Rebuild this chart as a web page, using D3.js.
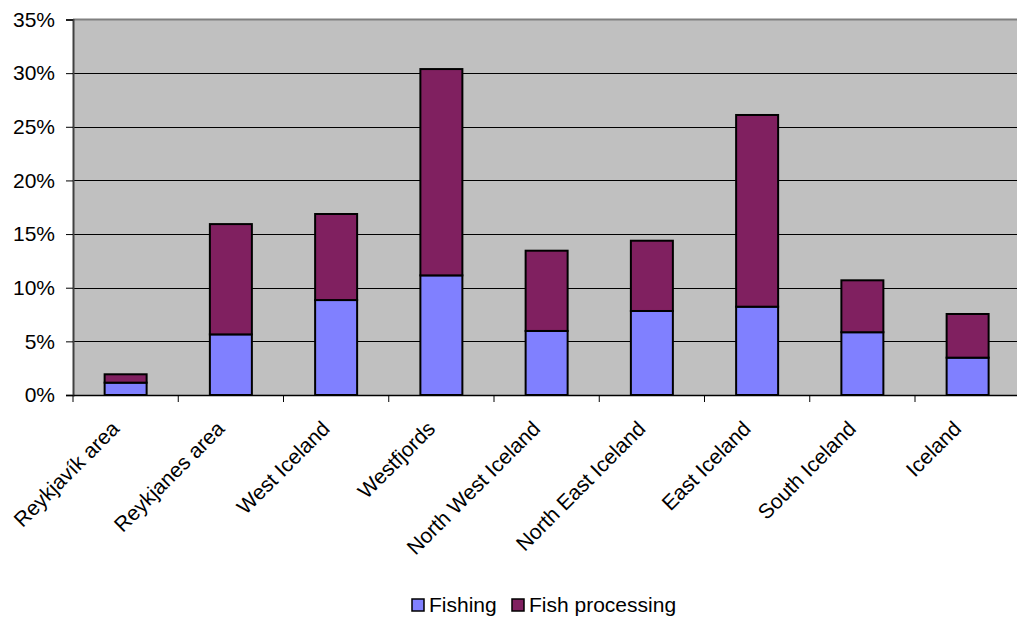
<!DOCTYPE html>
<html><head><meta charset="utf-8">
<script src="https://cdn.jsdelivr.net/npm/d3@7"></script>
<style>body{margin:0;background:#fff;} svg{display:block;}</style>
</head><body>
<svg id="c" width="1017" height="619"></svg>
<script>
const categories = ["Reykjavík area","Reykjanes area","West Iceland","Westfjords","North West Iceland","North East Iceland","East Iceland","South Iceland","Iceland"];
const fishing = [1.15, 5.65, 8.85, 11.15, 5.97, 7.83, 8.23, 5.85, 3.48];
const processing = [0.78, 10.28, 8.02, 19.23, 7.48, 6.55, 17.87, 4.84, 4.07];
const seriesNames = ["Fishing","Fish processing"];
const seriesColors = ["#8080FF","#802060"];
const yTicks = [0,5,10,15,20,25,30,35];

const svg = d3.select("#c");
const font = "Liberation Sans, Arial, sans-serif";
const fs = "21px";
const L = 73, T = 19.5, B = 395, R = 73 + 9*105.25;

const x = d3.scaleBand().domain(categories).range([L, R]).paddingInner(0).paddingOuter(0);
const y = d3.scaleLinear().domain([0,35]).range([B, T]);

svg.append("rect").attr("x",L).attr("y",T).attr("width",R-L).attr("height",B-T).attr("fill","#C0C0C0");

// gridlines
svg.append("g").selectAll("line").data(yTicks.filter(d=>d>0 && d<35)).join("line")
  .attr("x1",L).attr("x2",R).attr("y1",d=>Math.round(y(d))+0.5).attr("y2",d=>Math.round(y(d))+0.5)
  .attr("stroke","#000").attr("stroke-width",1);
// top border
svg.append("line").attr("x1",L).attr("x2",R).attr("y1",T).attr("y2",T).attr("stroke","#808080").attr("stroke-width",2);

// stacked bars
const stackData = categories.map((c,i)=>({cat:c, Fishing:fishing[i], "Fish processing":processing[i]}));
const stack = d3.stack().keys(seriesNames)(stackData);
const bw = 42;
stack.forEach((s,si)=>{
  svg.append("g").selectAll("rect").data(s).join("rect")
    .attr("x",d=>x(d.data.cat)+x.bandwidth()/2-bw/2)
    .attr("width",bw)
    .attr("y",d=>y(d[1]))
    .attr("height",d=>y(d[0])-y(d[1]))
    .attr("fill",seriesColors[si])
    .attr("stroke","#000").attr("stroke-width",2);
});

// y axis
const yAxis = svg.append("g").attr("transform",`translate(${L},0)`)
  .call(d3.axisLeft(y).tickValues(yTicks).tickFormat(d=>d+"%").tickSize(7).tickPadding(11));
yAxis.select(".domain").attr("stroke","#404040").attr("stroke-width",2);
yAxis.selectAll(".tick line").attr("stroke","#000");
yAxis.selectAll("text").attr("font-family",font).attr("font-size",fs).attr("fill","#000");

// x axis
const xAxis = svg.append("g").attr("transform",`translate(0,${B})`)
  .call(d3.axisBottom(x).tickSize(0));
xAxis.select(".domain").attr("stroke","#000").attr("stroke-width",1.5);
xAxis.selectAll(".tick text").remove();
svg.append("g").selectAll("line").data(d3.range(categories.length+1)).join("line")
  .attr("x1",i=>L+i*x.bandwidth()).attr("x2",i=>L+i*x.bandwidth())
  .attr("y1",B).attr("y2",B+7).attr("stroke","#000");

svg.append("g").selectAll("text").data(categories).join("text")
  .attr("transform",d=>`translate(${x(d)+x.bandwidth()/2-5},${430}) rotate(-45)`)
  .attr("text-anchor","end")
  .attr("font-family",font).attr("font-size",fs)
  .text(d=>d);

// legend
const leg = svg.append("g");
const legX = [412, 512];
seriesNames.forEach((n,i)=>{
  leg.append("rect").attr("x",legX[i]).attr("y",599).attr("width",12).attr("height",12)
    .attr("fill",seriesColors[i]).attr("stroke","#000").attr("stroke-width",1.5);
  leg.append("text").attr("x",legX[i]+17).attr("y",612).attr("font-family",font).attr("font-size",fs).text(n);
});
</script>
</body></html>
